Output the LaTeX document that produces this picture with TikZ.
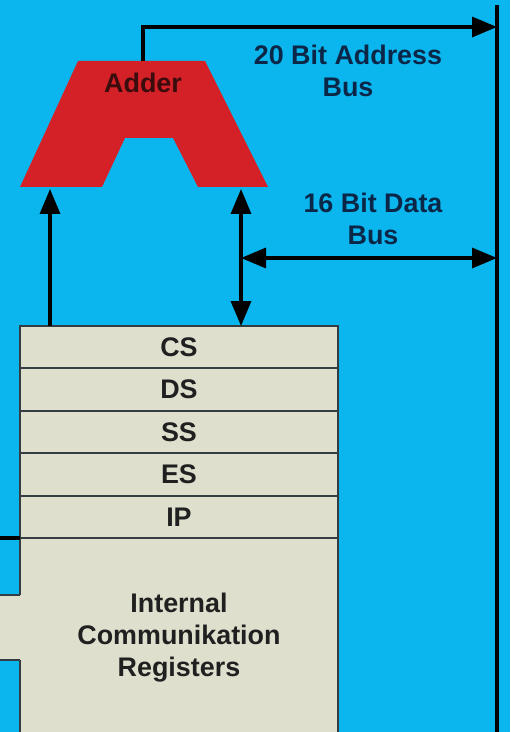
\documentclass[tikz,border=0pt]{standalone}
\usepackage{fontspec}
\setmainfont{Liberation Sans}
\usepackage{xcolor}
\usetikzlibrary{arrows.meta, positioning}
\definecolor{BusCyan}{HTML}{0BB6EE}
\definecolor{AdderRed}{HTML}{D42128}
\definecolor{AdderText}{HTML}{3A0C0E}
\definecolor{RegBeige}{HTML}{DEDFCD}
\definecolor{RegEdge}{HTML}{333D42}
\definecolor{RegText}{HTML}{202020}
\definecolor{BusText}{HTML}{0B2748}
\tikzset{
    reg/.style={
        draw=RegEdge,
        line width=1.1pt,
        fill=RegBeige,
        minimum width=6.36cm,
        minimum height=0.848cm,
        outer sep=0pt,
        text=RegText,
        font=\fontsize{15.3}{18.2}\selectfont\bfseries,
        align=center,
        inner sep=0pt
    },
    buslabel/.style={
        text=BusText,
        font=\fontsize{15.3}{18.2}\selectfont\bfseries,
        align=center
    },
    arrow/.style={
        -{Triangle[length=0.5cm, width=0.4cm]},
        line width=1.9pt,
        black
    },
    twoway/.style={
        {Triangle[length=0.5cm, width=0.4cm]}-{Triangle[length=0.5cm, width=0.4cm]},
        line width=1.9pt,
        black
    },
    busline/.style={
        line width=1.9pt,
        black
    }
}

\begin{document}
\begin{tikzpicture}[x=0.02cm, y=-0.02cm]
        % Background
        \fill[BusCyan] (0,0) rectangle (510,732);
        \clip (0,0) rectangle (510,732);

        % System bus line
        \coordinate (busTop) at (497,5);
        \coordinate (busBot) at (497,745);
        \draw[busline] (busTop) -- (busBot);

        % Adder
        \fill[AdderRed] (78,61) -- (205,61) -- (268,187) -- (198,187) -- (173,138)
            -- (125,138) -- (102,187) -- (20,187) -- cycle;
        \node[text=AdderText, font=\fontsize{15.3}{18.2}\selectfont\bfseries] (adder) at (143,83) {Adder};
        \coordinate (addrOut) at (143,61);
        \coordinate (offsetIn) at (50,189);
        \coordinate (segIn) at (241,189);

        % Segment registers
        \node[reg, anchor=north west] (cs) at (20,326) {CS};
        \node[reg, below=0pt of cs] (ds) {DS};
        \node[reg, below=0pt of ds] (ss) {SS};
        \node[reg, below=0pt of ss] (es) {ES};
        \node[reg, below=0pt of es] (ip) {IP};
        \node[reg, below=0pt of ip, minimum height=4cm] (icr) {Internal\\Communikation\\Registers};

        % Link to the left
        \coordinate (leftIn) at (0,538);
        \draw[busline] (ip.south west -| leftIn) -- (ip.south west);
        \fill[RegBeige] (0,595) rectangle (21,660);
        \draw[RegEdge, line width=1.1pt] (0,595) -- (20,595) (0,660) -- (20,660);

        % Arrows
        \draw[arrow] (cs.north -| offsetIn) -- (offsetIn);
        \draw[twoway] (cs.north -| segIn) -- (segIn);

        % Address bus
        \coordinate (addrBus) at (497,27);
        \draw[arrow] (addrOut) |- (addrBus);
        \node[buslabel] (addrLabel) at (348,71) {20 Bit Address\\Bus};

        % Data bus
        \coordinate (dataBus) at (497,258);
        \draw[twoway] (segIn |- dataBus) -- (dataBus);
        \node[buslabel] (dataLabel) at (373,219) {16 Bit Data\\Bus};
    \end{tikzpicture}
\end{document}
